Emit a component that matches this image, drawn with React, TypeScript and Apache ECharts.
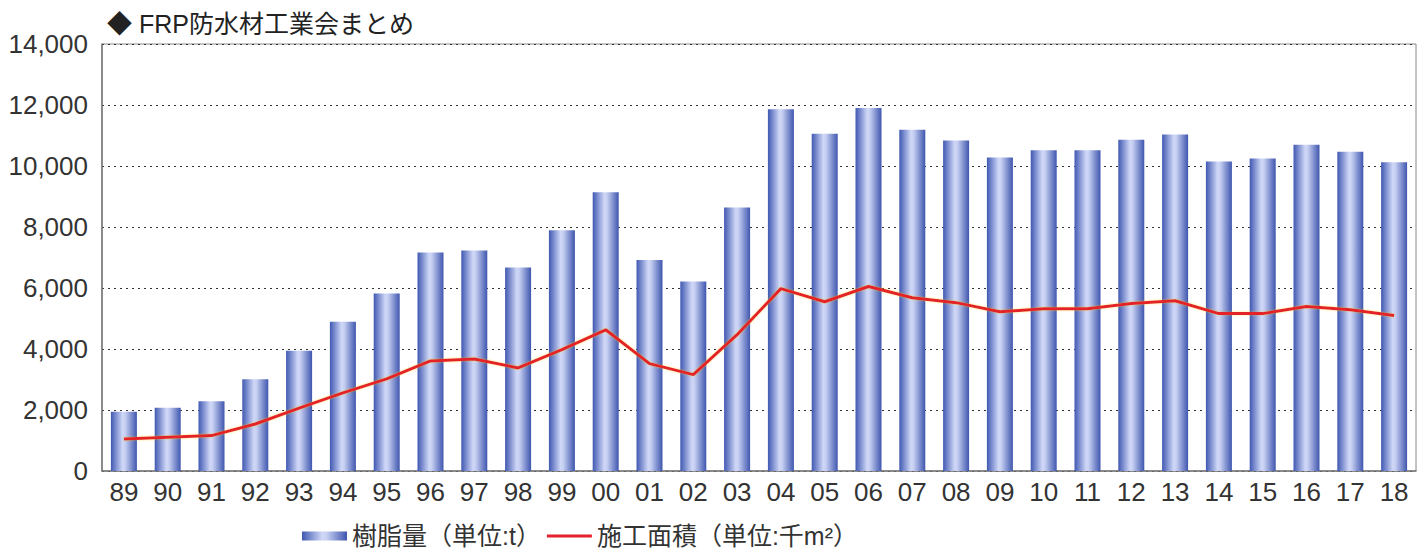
import React, { useEffect, useRef } from "react";
import * as echarts from "echarts";

const years = ["89","90","91","92","93","94","95","96","97","98","99","00","01","02","03","04","05","06","07","08","09","10","11","12","13","14","15","16","17","18"];
const resin = [1940,2070,2290,3010,3940,4890,5820,7160,7230,6670,7890,9140,6920,6210,8640,11860,11060,11900,11190,10840,10280,10520,10520,10860,11030,10150,10250,10700,10470,10120];
const area = [1050,1110,1160,1540,2060,2560,3020,3610,3670,3380,3980,4630,3520,3160,4470,5980,5550,6050,5680,5520,5220,5320,5320,5490,5580,5160,5160,5390,5290,5100];
const yTicks = [0, 2000, 4000, 6000, 8000, 10000, 12000, 14000];
const titleText = "◆ FRP防水材工業会まとめ";
const resinName = "樹脂量（単位:t）";
const areaName = "施工面積（単位:千m²）";

const FONT = "'Liberation Sans', 'Noto Sans CJK JP', sans-serif";

export default function App() {
  const ref = useRef<HTMLDivElement>(null);
  useEffect(() => {
    const chart = echarts.init(ref.current!, undefined, { renderer: "svg" });
    const barColor = new echarts.graphic.LinearGradient(0, 0, 1, 0, [
      { offset: 0, color: "#4058b2" },
      { offset: 0.45, color: "#d0d8f7" },
      { offset: 0.55, color: "#c6cff2" },
      { offset: 1, color: "#3f56ae" },
    ]);
    chart.setOption({
      animation: false,
      backgroundColor: "#ffffff",
      title: {
        text: titleText,
        left: 102,
        top: 6,
        textStyle: { fontFamily: FONT, fontSize: 25, fontWeight: "normal", color: "#222" },
      },
      legend: {
        top: 523,
        left: 302,
        padding: 0,
        itemGap: 6,
        itemWidth: 45,
        itemHeight: 9,
        textStyle: { fontFamily: FONT, fontSize: 25, color: "#333", lineHeight: 26 },
        data: [
          { name: resinName, icon: "rect", itemStyle: { color: barColor } },
          { name: areaName, icon: "path://M0,0 L45,0 L45,3 L0,3 Z", itemStyle: { color: "#e3202c" } },
        ],
      },
      grid: {
        left: 102,
        right: 8,
        top: 44,
        bottom: 84,
        show: true,
        borderColor: "#888",
        borderWidth: 1,
      },
      xAxis: {
        type: "category",
        data: years,
        axisLine: { lineStyle: { color: "#777", width: 1.5 } },
        axisTick: { inside: true, length: 5, lineStyle: { color: "#333", width: 2 } },
        axisLabel: { fontFamily: FONT, fontSize: 26, color: "#333", margin: 8 },
      },
      yAxis: {
        type: "value",
        min: 0,
        max: 14000,
        interval: 2000,
        axisLine: { show: true, lineStyle: { color: "#777", width: 1.5 } },
        axisTick: { show: false },
        axisLabel: {
          fontFamily: FONT,
          fontSize: 26,
          color: "#333",
          margin: 14,
          formatter: (v: number) => (yTicks.includes(v) ? v.toLocaleString("en-US") : ""),
        },
        splitLine: { lineStyle: { color: "#333", type: [2, 4], width: 1 } },
      },
      series: [
        {
          name: resinName,
          type: "bar",
          data: resin,
          barWidth: 26,
          itemStyle: { color: barColor },
        },
        {
          name: areaName,
          type: "line",
          data: area,
          symbol: "none",
          lineStyle: { color: "#e3202c", width: 3, shadowColor: "rgba(255,200,0,0.5)", shadowBlur: 2 },
          itemStyle: { color: "#e3202c" },
        },
      ],
    });
    return () => chart.dispose();
  }, []);
  return <div ref={ref} style={{ position: "fixed", left: 0, top: 0, width: 1424, height: 555 }} />;
}
